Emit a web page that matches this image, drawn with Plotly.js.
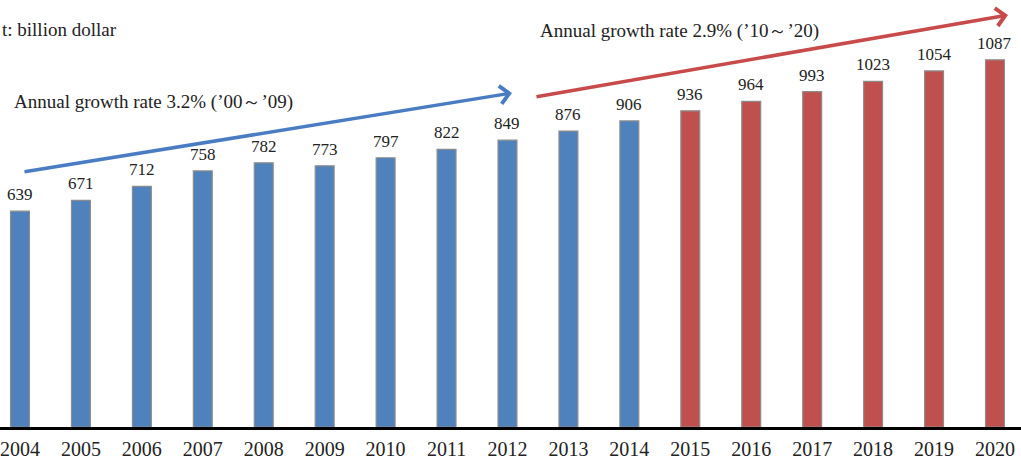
<!DOCTYPE html>
<html>
<head>
<meta charset="utf-8">
<script src="https://cdn.plot.ly/plotly-3.0.1.min.js"></script>
<style>html,body{margin:0;padding:0;background:#fff;}#chart{width:1021px;height:462px;}</style>
</head>
<body>
<div id="chart"></div>
<script>
// Data (billion dollar)
var years = ['2004','2005','2006','2007','2008','2009','2010','2011','2012','2013','2014','2015','2016','2017','2018','2019','2020'];
var values = [639, 671, 712, 758, 782, 773, 797, 822, 849, 876, 906, 936, 964, 993, 1023, 1054, 1087];
var lastActualYear = '2014';
var unitLabel = 't: billion dollar';
var growthLabel1 = 'Annual growth rate 3.2% (’00～’09)';
var growthLabel2 = 'Annual growth rate 2.9% (’10～’20)';

var split = years.indexOf(lastActualYear) + 1;
var serif = 'Liberation Serif, Times New Roman, serif';
var blue = '#4f81bd', red = '#c0504d';

var traces = [
  {type:'bar', x: years.slice(0, split), y: values.slice(0, split),
   marker:{color: blue, line:{color:'#8c8c8c', width:1.2}}, hoverinfo:'x+y'},
  {type:'bar', x: years.slice(split), y: values.slice(split),
   marker:{color: red, line:{color:'#8c8c8c', width:1.2}}, hoverinfo:'x+y'}
];

// value labels above bars (x given as category index)
var ann = years.map(function(yr, i){
  return {x: i, y: values[i], xref:'x', yref:'y', text: String(values[i]),
    showarrow:false, yanchor:'bottom', yshift:5,
    font:{family: serif, size:17, color:'#222'}};
});

ann.push({xref:'paper', yref:'paper', x:0, y:(427-30)/427, xanchor:'left', yanchor:'middle',
  text: unitLabel, showarrow:false, font:{family: serif, size:19, color:'#222'}});
ann.push({xref:'paper', yref:'paper', x:12/1021, y:(427-102)/427, xanchor:'left', yanchor:'middle',
  text: growthLabel1, showarrow:false, font:{family: serif, size:19, color:'#222'}});
ann.push({xref:'paper', yref:'paper', x:538/1021, y:(427-31)/427, xanchor:'left', yanchor:'middle',
  text: growthLabel2, showarrow:false, font:{family: serif, size:19, color:'#222'}});

// trend arrows
ann.push({xref:'paper', yref:'paper', x:512/1021, y:(427-93)/427, axref:'pixel', ayref:'pixel',
  ax:-489, ay:79, text:'', showarrow:true, arrowhead:4, arrowsize:1, arrowwidth:3.5,
  arrowcolor: '#4a7cc4', standoff:0});
ann.push({xref:'paper', yref:'paper', x:1008/1021, y:(427-15)/427, axref:'pixel', ayref:'pixel',
  ax:-473, ay:82, text:'', showarrow:true, arrowhead:4, arrowsize:1, arrowwidth:3.5,
  arrowcolor: '#c84a4a', standoff:0});

var layout = {
  width:1021, height:462,
  margin:{l:0, r:0, t:0, b:35},
  paper_bgcolor:'#fff', plot_bgcolor:'#fff',
  barmode:'overlay', bargap:0.69, showlegend:false,
  xaxis:{type:'category', categoryorder:'array', categoryarray: years,
    range:[-0.328, 16.427], showline:true, linecolor:'#000', linewidth:3,
    showgrid:false, zeroline:false, ticks:'outside', ticklen:2, tickcolor:'rgba(0,0,0,0)',
    tickfont:{family: serif, size:20, color:'#222'}},
  yaxis:{range:[0, 1264], visible:false, showgrid:false, zeroline:false},
  annotations: ann
};

Plotly.newPlot('chart', traces, layout, {displayModeBar:false, staticPlot:true});
</script>
</body>
</html>
